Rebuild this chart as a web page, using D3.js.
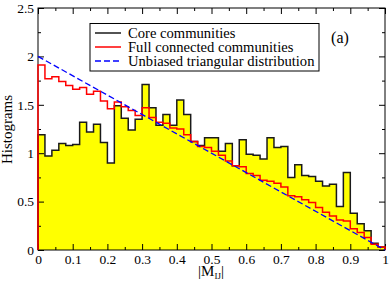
<!DOCTYPE html>
<html>
<head>
<meta charset="utf-8">
<script src="https://cdn.jsdelivr.net/npm/d3@7"></script>
<style>
  body { margin: 0; background: #fff; }
  svg text { font-family: "Liberation Serif", "DejaVu Serif", serif; fill: #000; }
</style>
</head>
<body>
<svg id="chart" width="390" height="285"></svg>
<script>
const binWidth = 0.02;
// core communities histogram (black outline, yellow fill)
const coreValues = [
  1.19, 0.97, 1.03, 1.10, 1.08, 1.09, 1.32, 1.22, 1.30, 1.11,
  0.90, 1.49, 1.36, 1.24, 1.35, 1.71, 1.47, 1.29, 1.40, 1.29,
  1.55, 1.40, 1.12, 1.08, 1.16, 1.16, 1.02, 1.10, 0.87, 1.14,
  0.99, 0.98, 0.94, 1.16, 1.06, 1.07, 0.75, 0.88, 0.77, 0.76,
  0.71, 0.66, 0.68, 0.45, 0.80, 0.38, 0.27, 0.20, 0.07, 0.03
];
// full connected communities histogram (red)
const fullValues = [
  1.91, 1.77, 1.79, 1.74, 1.70, 1.66, 1.68, 1.61, 1.64, 1.54,
  1.46, 1.53, 1.48, 1.44, 1.39, 1.47, 1.37, 1.32, 1.31, 1.26,
  1.25, 1.19, 1.12, 1.07, 1.06, 1.02, 0.98, 0.92, 0.87, 0.86,
  0.79, 0.77, 0.72, 0.71, 0.69, 0.65, 0.56, 0.55, 0.52, 0.49,
  0.44, 0.39, 0.35, 0.31, 0.30, 0.22, 0.18, 0.13, 0.06, 0.03
];
// unbiased triangular distribution endpoints
const triangle = [[0, 2], [1, 0]];
const xTicks = [0, 0.1, 0.2, 0.3, 0.4, 0.5, 0.6, 0.7, 0.8, 0.9, 1];
const yTicks = [0, 0.5, 1, 1.5, 2, 2.5];
const legendLabels = ['Core communities', 'Full connected communities', 'Unbiased triangular distribution'];

const plotLeft = 38, plotRight = 385, plotTop = 8, plotBottom = 250;

const svg = d3.select('#chart');
const x = d3.scaleLinear().domain([0, 1]).range([plotLeft, plotRight]);
const y = d3.scaleLinear().domain([0, 2.5]).range([plotBottom, plotTop]);

const toSteps = vals => [[0, 0]]
  .concat(vals.map((v, i) => [i * binWidth, v]))
  .concat([[1, vals[vals.length - 1]], [1, 0]]);

const coreSteps = toSteps(coreValues);
const fullSteps = toSteps(fullValues);

const area = d3.area()
  .curve(d3.curveStepAfter)
  .x(d => x(d[0]))
  .y0(y(0))
  .y1(d => y(d[1]));

const line = d3.line()
  .curve(d3.curveStepAfter)
  .x(d => x(d[0]))
  .y(d => y(d[1]));

// minor tick values
const xMinor = d3.range(0, 21).map(i => i * 0.05).filter(v => !xTicks.some(t => Math.abs(t - v) < 1e-9));
const yMinor = d3.range(0, 11).map(i => i * 0.25).filter(v => !yTicks.some(t => Math.abs(t - v) < 1e-9));

svg.append('path')
  .attr('d', area(coreSteps))
  .attr('fill', '#ffff00');

// frame
svg.append('rect')
  .attr('x', plotLeft).attr('y', plotTop)
  .attr('width', plotRight - plotLeft).attr('height', plotBottom - plotTop)
  .attr('fill', 'none').attr('stroke', '#000').attr('stroke-width', 1);

const styleAxis = g => {
  g.select('.domain').remove();
  g.selectAll('line').attr('stroke', '#000');
  g.selectAll('text')
    .style('font-family', '"Liberation Serif", serif')
    .style('font-size', '13.5px')
    .attr('fill', '#000');
};

svg.append('g').attr('transform', `translate(0,${plotBottom})`)
  .call(d3.axisBottom(x).tickValues(xTicks).tickSize(-6).tickPadding(4).tickFormat(d3.format('')))
  .call(styleAxis);
svg.append('g').attr('transform', `translate(0,${plotBottom})`)
  .call(d3.axisBottom(x).tickValues(xMinor).tickSize(-3).tickFormat(''))
  .call(styleAxis);
svg.append('g').attr('transform', `translate(0,${plotTop})`)
  .call(d3.axisTop(x).tickValues(xTicks).tickSize(-6).tickFormat(''))
  .call(styleAxis);
svg.append('g').attr('transform', `translate(0,${plotTop})`)
  .call(d3.axisTop(x).tickValues(xMinor).tickSize(-3).tickFormat(''))
  .call(styleAxis);

svg.append('g').attr('transform', `translate(${plotLeft},0)`)
  .call(d3.axisLeft(y).tickValues(yTicks).tickSize(-6).tickPadding(4).tickFormat(d3.format('')))
  .call(styleAxis);
svg.append('g').attr('transform', `translate(${plotLeft},0)`)
  .call(d3.axisLeft(y).tickValues(yMinor).tickSize(-3).tickFormat(''))
  .call(styleAxis);
svg.append('g').attr('transform', `translate(${plotRight},0)`)
  .call(d3.axisRight(y).tickValues(yTicks).tickSize(-6).tickFormat(''))
  .call(styleAxis);
svg.append('g').attr('transform', `translate(${plotRight},0)`)
  .call(d3.axisRight(y).tickValues(yMinor).tickSize(-3).tickFormat(''))
  .call(styleAxis);

svg.append('path')
  .attr('d', line(coreSteps))
  .attr('fill', 'none')
  .attr('stroke', '#1a1a1a')
  .attr('stroke-width', 1.5);

svg.append('path')
  .attr('d', line(fullSteps))
  .attr('fill', 'none')
  .attr('stroke', '#ff0000')
  .attr('stroke-width', 1.5);

svg.append('path')
  .attr('d', d3.line().x(d => x(d[0])).y(d => y(d[1]))(triangle))
  .attr('fill', 'none')
  .attr('stroke', '#0000ff')
  .attr('stroke-width', 1.3)
  .attr('stroke-dasharray', '6,3');

// legend
const legend = svg.append('g');
legend.append('rect')
  .attr('x', 90).attr('y', 23.5)
  .attr('width', 229).attr('height', 47.5)
  .attr('fill', '#fff').attr('stroke', '#000').attr('stroke-width', 1);

const legendStyles = [
  { stroke: '#1a1a1a', dash: null },
  { stroke: '#ff0000', dash: null },
  { stroke: '#0000ff', dash: '6,3' }
];
legendLabels.forEach((label, i) => {
  const ly = 33 + i * 14;
  legend.append('line')
    .attr('x1', 95).attr('x2', 121)
    .attr('y1', ly).attr('y2', ly)
    .attr('stroke', legendStyles[i].stroke)
    .attr('stroke-width', 1.5)
    .attr('stroke-dasharray', legendStyles[i].dash);
  legend.append('text')
    .attr('x', 128).attr('y', ly + 4.5)
    .style('font-size', '14.6px')
    .text(label);
});

svg.append('text')
  .attr('x', 340).attr('y', 43)
  .attr('text-anchor', 'middle')
  .style('font-size', '16px')
  .text('(a)');

svg.append('text')
  .attr('transform', `translate(12,${(plotTop + plotBottom) / 2 + 0.5}) rotate(-90)`)
  .attr('text-anchor', 'middle')
  .style('font-size', '15px')
  .text('Histograms');

const xl = svg.append('text')
  .attr('x', 211).attr('y', 276)
  .attr('text-anchor', 'middle')
  .style('font-size', '15px');
xl.append('tspan').text('|M');
xl.append('tspan').attr('dy', 3).style('font-size', '9px').text('IJ');
xl.append('tspan').attr('dy', -3).text('|');
</script>
</body>
</html>
